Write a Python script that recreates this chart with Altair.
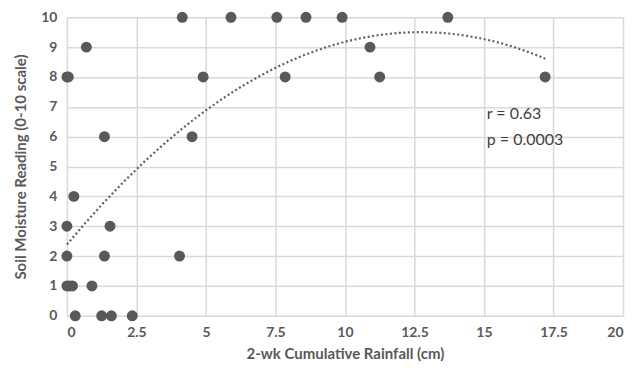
import altair as alt
import pandas as pd

rain = [4.15, 5.9, 7.55, 8.6, 9.9, 13.7,
        0.7, 10.9,
        0.0, 0.05, 4.9, 7.85, 11.25, 17.2,
        1.35, 4.5,
        0.25,
        0.0, 1.55,
        0.0, 1.35, 4.05,
        0.0, 0.1, 0.2, 0.9,
        0.3, 1.25, 1.6, 2.35]
moist = [10, 10, 10, 10, 10, 10,
         9, 9,
         8, 8, 8, 8, 8, 8,
         6, 6,
         4,
         3, 3,
         2, 2, 2,
         1, 1, 1, 1,
         0, 0, 0, 0]

x_ticks = [0, 2.5, 5, 7.5, 10, 12.5, 15, 17.5, 20]
y_ticks = [0, 1, 2, 3, 4, 5, 6, 7, 8, 9, 10]
stats = ["r = 0.63", "p = 0.0003"]
stats_y = [6.75, 5.9]
stats_x = [15.1, 15.1]

df = pd.DataFrame({"rain": rain, "moist": moist})
ann = pd.DataFrame({"label": stats, "x": stats_x, "y": stats_y})

FONT = "Lato"
GRAY = "#595959"

xs = alt.Scale(domain=[0, 20], nice=False)
ys = alt.Scale(domain=[0, 10], nice=False)

xaxis = alt.Axis(values=x_ticks, title="2-wk Cumulative Rainfall (cm)", labelExpr="datum.value",
                 grid=True, gridColor="#d9d9d9", gridWidth=1.5, domain=False, ticks=False,
                 labelOverlap=False,
                 labelFont=FONT, labelFontSize=14, labelFontWeight="bold", labelColor=GRAY,
                 labelPadding=10, titleFont=FONT, titleFontSize=15, titleFontWeight="bold",
                 titleColor=GRAY, titlePadding=7)
yaxis = alt.Axis(values=y_ticks, title="Soil Moisture Reading (0-10 scale)",
                 grid=True, gridColor="#d9d9d9", gridWidth=1.5, domain=False, ticks=False,
                 labelOverlap=False,
                 labelFont=FONT, labelFontSize=14, labelFontWeight="bold", labelColor=GRAY,
                 labelPadding=10, titleFont=FONT, titleFontSize=15, titleFontWeight="bold",
                 titleColor=GRAY, titlePadding=12)

base = alt.Chart(df)

points = base.mark_circle(size=120, color=GRAY, opacity=1, clip=False).encode(
    x=alt.X("rain:Q", scale=xs, axis=xaxis),
    y=alt.Y("moist:Q", scale=ys, axis=yaxis),
)

trend = base.transform_regression("rain", "moist", method="poly", order=2).mark_line(
    color="#606060", strokeWidth=2.2, strokeDash=[2, 2.5]
).encode(x=alt.X("rain:Q", scale=xs, axis=xaxis), y=alt.Y("moist:Q", scale=ys, axis=yaxis))

text = alt.Chart(ann).mark_text(align="left", baseline="middle", font=FONT, fontSize=16,
                                color="#404040").encode(
    x=alt.X("x:Q", scale=xs, axis=xaxis), y=alt.Y("y:Q", scale=ys, axis=yaxis), text="label:N")

chart = alt.layer(points, trend, text).properties(
    width=557, height=299,
    autosize=alt.AutoSizeParams(type="none"),
    padding={"left": 59, "top": 9, "right": 2, "bottom": 49},
).configure_view(stroke=None)

chart.save("out.html", embed_options={"renderer": "svg", "actions": False})
